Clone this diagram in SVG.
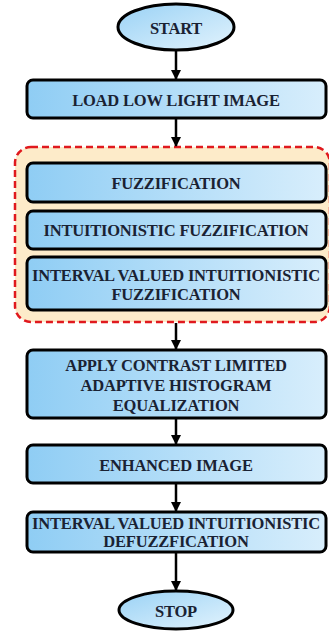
<svg xmlns="http://www.w3.org/2000/svg" width="329" height="632" viewBox="0 0 329 632">
<defs>
<linearGradient id="gBox" x1="0" y1="0" x2="1" y2="0">
<stop offset="0" stop-color="#8fcdf4"/>
<stop offset="1" stop-color="#d8eefc"/>
</linearGradient>
<linearGradient id="gEll" x1="0" y1="0" x2="1" y2="1">
<stop offset="0" stop-color="#9ad2f5"/>
<stop offset="1" stop-color="#e2f3fd"/>
</linearGradient>
<marker id="arr" markerWidth="10" markerHeight="10" refX="9" refY="5" orient="auto" markerUnits="userSpaceOnUse">
<path d="M0,0 L10,5 L0,10 Z" fill="#000"/>
</marker>
</defs>
<style>
.box{fill:url(#gBox);stroke:#000;stroke-width:3}
.ell{fill:url(#gEll);stroke:#000;stroke-width:3}
.t{font-family:"Liberation Serif","Times New Roman",serif;font-weight:bold;font-size:16.5px;fill:#1a2233;text-anchor:middle;dominant-baseline:central;letter-spacing:-0.2px}
.con{stroke:#000;stroke-width:2.5;fill:none}
</style>
<g id="group-fuzzy">
<rect x="15" y="147" width="315" height="175" rx="16" fill="#fdebc9" stroke="#e0191e" stroke-width="2.5" stroke-dasharray="7,4"/>
</g>
<g id="start">
<ellipse class="ell" cx="176" cy="27" rx="58" ry="23"/>
<text class="t" x="176" y="28">START</text>
</g>
<g id="load">
<rect class="box" x="27" y="80" width="299" height="38" rx="6"/>
<text class="t" x="176" y="100">LOAD LOW LIGHT IMAGE</text>
</g>
<g id="fuzz">
<rect class="box" x="27" y="163" width="299" height="39" rx="6"/>
<text class="t" x="176" y="183">FUZZIFICATION</text>
</g>
<g id="ifuzz">
<rect class="box" x="27" y="211" width="299" height="38" rx="6"/>
<text class="t" x="176" y="230">INTUITIONISTIC FUZZIFICATION</text>
</g>
<g id="ivifuzz">
<rect class="box" x="27" y="257" width="299" height="53" rx="6"/>
<text class="t" x="176" y="275">INTERVAL VALUED INTUITIONISTIC</text>
<text class="t" x="176" y="294">FUZZIFICATION</text>
</g>
<g id="clahe">
<rect class="box" x="27" y="350" width="299" height="68" rx="6"/>
<text class="t" x="176" y="365">APPLY CONTRAST LIMITED</text>
<text class="t" x="176" y="385">ADAPTIVE HISTOGRAM</text>
<text class="t" x="176" y="405">EQUALIZATION</text>
</g>
<g id="enhanced">
<rect class="box" x="27" y="445" width="299" height="38" rx="6"/>
<text class="t" x="176" y="465">ENHANCED IMAGE</text>
</g>
<g id="defuzz">
<rect class="box" x="27" y="512" width="299" height="40" rx="6"/>
<text class="t" x="176" y="523">INTERVAL VALUED INTUITIONISTIC</text>
<text class="t" x="176" y="541">DEFUZZFICATION</text>
</g>
<g id="stop">
<ellipse class="ell" cx="176" cy="610" rx="57" ry="19"/>
<text class="t" x="176" y="611">STOP</text>
</g>
<g id="connectors">
<line class="con" x1="176" y1="51" x2="176" y2="79" marker-end="url(#arr)"/>
<line class="con" x1="176" y1="119" x2="176" y2="146" marker-end="url(#arr)"/>
<line class="con" x1="176" y1="323" x2="176" y2="349" marker-end="url(#arr)"/>
<line class="con" x1="176" y1="419" x2="176" y2="444" marker-end="url(#arr)"/>
<line class="con" x1="176" y1="484" x2="176" y2="511" marker-end="url(#arr)"/>
<line class="con" x1="176" y1="553" x2="176" y2="590" marker-end="url(#arr)"/>
</g>
</svg>
